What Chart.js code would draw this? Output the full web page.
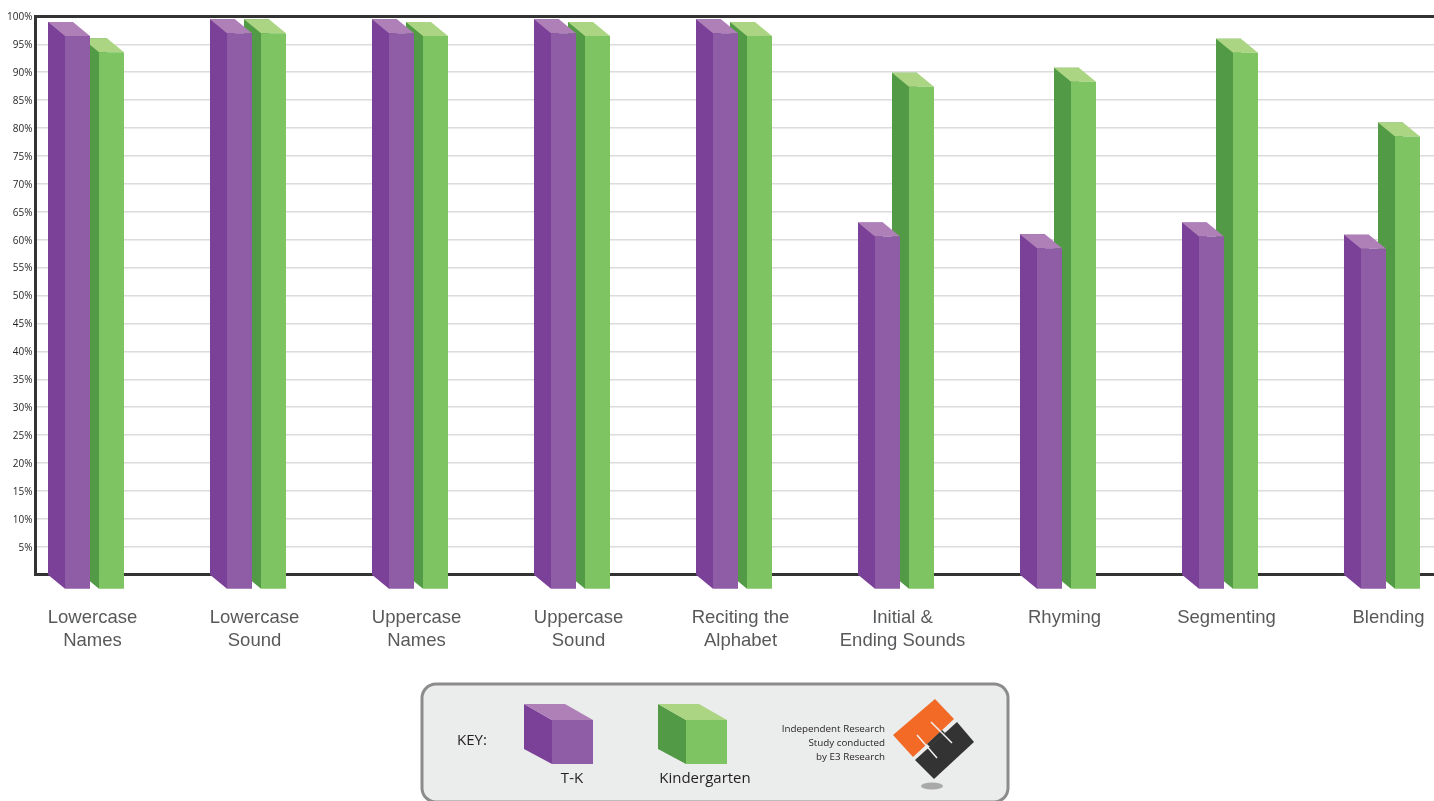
<!DOCTYPE html>
<html>
<head>
<meta charset="utf-8">
<style>
  html, body { margin: 0; padding: 0; background: #fff; overflow: hidden; }
  #wrap { width: 1434px; height: 801px; }
</style>
<script src="https://cdn.jsdelivr.net/npm/chart.js@4/dist/chart.umd.min.js"></script>
</head>
<body>
<div id="wrap"><canvas id="chart" width="1434" height="801"></canvas></div>
<script>
"use strict";

const categories = [
  ["Lowercase", "Names"],
  ["Lowercase", "Sound"],
  ["Uppercase", "Names"],
  ["Uppercase", "Sound"],
  ["Reciting the", "Alphabet"],
  ["Initial &", "Ending Sounds"],
  ["Rhyming"],
  ["Segmenting"],
  ["Blending"],
];
const tkValues = [99, 99.5, 99.5, 99.5, 99.5, 63.1, 61, 63.1, 60.9];
const kinderValues = [96.1, 99.5, 99, 99, 99, 89.9, 90.8, 96, 81];
const yTicks = [0, 5, 10, 15, 20, 25, 30, 35, 40, 45, 50, 55, 60, 65, 70, 75, 80, 85, 90, 95, 100];

const purple = { side: "#7b4199", front: "#8f5ca6", top: "#af80b8" };
const green = { side: "#529a45", front: "#7ec462", top: "#abd583" };
const DEPTH_X = 17;
const DEPTH_Y = 14;

function poly(ctx, pts, fill) {
  ctx.fillStyle = fill;
  ctx.beginPath();
  pts.forEach((p, i) => (i ? ctx.lineTo(p[0], p[1]) : ctx.moveTo(p[0], p[1])));
  ctx.closePath();
  ctx.fill();
}

// the library draws each bar as the back of the box, this adds the other faces
const boxFaces = {
  id: "boxFaces",
  afterDatasetDraw(chart, args) {
    const ctx = chart.ctx;
    const c = chart.data.datasets[args.index].faces;
    args.meta.data.forEach((bar) => {
      const l = bar.x - bar.width / 2;
      const r = bar.x + bar.width / 2;
      const t = bar.y;
      const b = bar.base;
      poly(ctx, [[l, t], [l + DEPTH_X, t + DEPTH_Y], [l + DEPTH_X, b + DEPTH_Y], [l, b]], c.side);
      poly(ctx, [[l, t], [r, t], [r + DEPTH_X, t + DEPTH_Y], [l + DEPTH_X, t + DEPTH_Y]], c.top);
      poly(ctx, [[l + DEPTH_X, t + DEPTH_Y], [r + DEPTH_X, t + DEPTH_Y], [r + DEPTH_X, b + DEPTH_Y], [l + DEPTH_X, b + DEPTH_Y]], c.front);
    });
  },
};

function cube(ctx, x, c) {
  poly(ctx, [[x, 704], [x + 28, 720], [x + 28, 764], [x, 749]], c.side);
  poly(ctx, [[x, 704], [x + 41, 704], [x + 69, 720], [x + 28, 720]], c.top);
  poly(ctx, [[x + 28, 720], [x + 69, 720], [x + 69, 764], [x + 28, 764]], c.front);
}

// key box at the bottom with the research credit
const keyPanel = {
  id: "keyPanel",
  afterDraw(chart) {
    const ctx = chart.ctx;
    ctx.save();
    ctx.beginPath();
    ctx.roundRect(422, 684, 586, 118, 14);
    ctx.fillStyle = "#ebecec";
    ctx.fill();
    ctx.lineWidth = 3;
    ctx.strokeStyle = "#8c8c8c";
    ctx.stroke();

    cube(ctx, 524, purple);
    cube(ctx, 658, green);

    ctx.fillStyle = "#231f20";
    ctx.textBaseline = "middle";
    ctx.textAlign = "left";
    ctx.font = "15px 'Open Sans'";
    ctx.fillText("KEY:", 457, 741);
    ctx.textAlign = "center";
    ctx.fillText(chart.data.datasets[0].label, 572, 779);
    ctx.fillText(chart.data.datasets[1].label, 705, 779);
    ctx.textAlign = "right";
    ctx.font = "9.8px 'Open Sans'";
    ctx.fillText("Independent Research", 885, 729);
    ctx.fillText("Study conducted", 885, 743);
    ctx.fillText("by E3 Research", 885, 757);

    poly(ctx, [[935, 699], [954, 719], [913, 757], [893, 735]], "#f26a26");
    poly(ctx, [[957, 722], [974, 742], [934, 779], [915, 760]], "#333333");
    poly(ctx, [[927, 744], [942, 730], [945, 733], [930, 747]], "#333333");
    ctx.strokeStyle = "#f1f1f1";
    ctx.lineWidth = 1.5;
    ctx.beginPath();
    ctx.moveTo(931, 722); ctx.lineTo(952, 743);
    ctx.moveTo(917, 735); ctx.lineTo(937, 758);
    ctx.stroke();
    ctx.fillStyle = "#a9a9a9";
    ctx.beginPath();
    ctx.ellipse(932, 786, 11, 3.6, 0, 0, Math.PI * 2);
    ctx.fill();
    ctx.restore();
  },
};

new Chart(document.getElementById("chart"), {
  type: "bar",
  plugins: [boxFaces, keyPanel],
  data: {
    datasets: [
      {
        label: "T-K",
        data: tkValues.map((v, i) => ({ x: i, y: v })),
        backgroundColor: purple.side,
        faces: purple,
      },
      {
        label: "Kindergarten",
        data: kinderValues.map((v, i) => ({ x: i, y: v })),
        backgroundColor: green.side,
        faces: green,
      },
    ],
  },
  options: {
    responsive: false,
    animation: false,
    categoryPercentage: 0.4198,
    barPercentage: 0.735,
    borderWidth: 0,
    layout: { padding: { top: 16.4, left: 0, right: 0, bottom: 0 } },
    plugins: { legend: { display: false }, tooltip: { enabled: false } },
    scales: {
      x: {
        type: "linear",
        offset: false,
        // picked so category 0 sits at x=77.5 and each one is 162px on
        min: -0.2593,
        max: 8.3735,
        grid: { display: false },
        border: { display: true, color: "#333333", width: 3 },
        afterBuildTicks: (s) => { s.ticks = categories.map((c, i) => ({ value: i })); },
        afterFit: (s) => { s.height = 226.3; s.paddingLeft = 0; s.paddingRight = 0; },
        ticks: {
          autoSkip: false,
          maxRotation: 0,
          minRotation: 0,
          padding: 24,
          labelOffset: 15,
          color: "#58595b",
          font: { family: "'Liberation Sans'", size: 18.5, lineHeight: 1.25 },
          callback: (v) => categories[v],
        },
      },
      y: {
        min: 0,
        max: 100,
        afterBuildTicks: (s) => { s.ticks = yTicks.map((v) => ({ value: v })); },
        afterFit: (s) => { s.width = 35.5; },
        grid: {
          drawTicks: false,
          color: (c) => (c.tick.value === 100 ? "#333333" : "#dcdcdc"),
          // no line at 0: the x border is there, and a wide one lifts the bar bases
          lineWidth: (c) => (c.tick.value === 0 ? 0 : c.tick.value === 100 ? 3 : 1.5),
        },
        border: { display: true, color: "#333333", width: 3 },
        ticks: {
          padding: 3,
          labelOffset: 1,
          color: "#231f20",
          font: { family: "'Open Sans'", size: 10 },
          callback: (v) => (v === 0 ? "" : v + "%"),
        },
      },
    },
  },
});
</script>
</body>
</html>
